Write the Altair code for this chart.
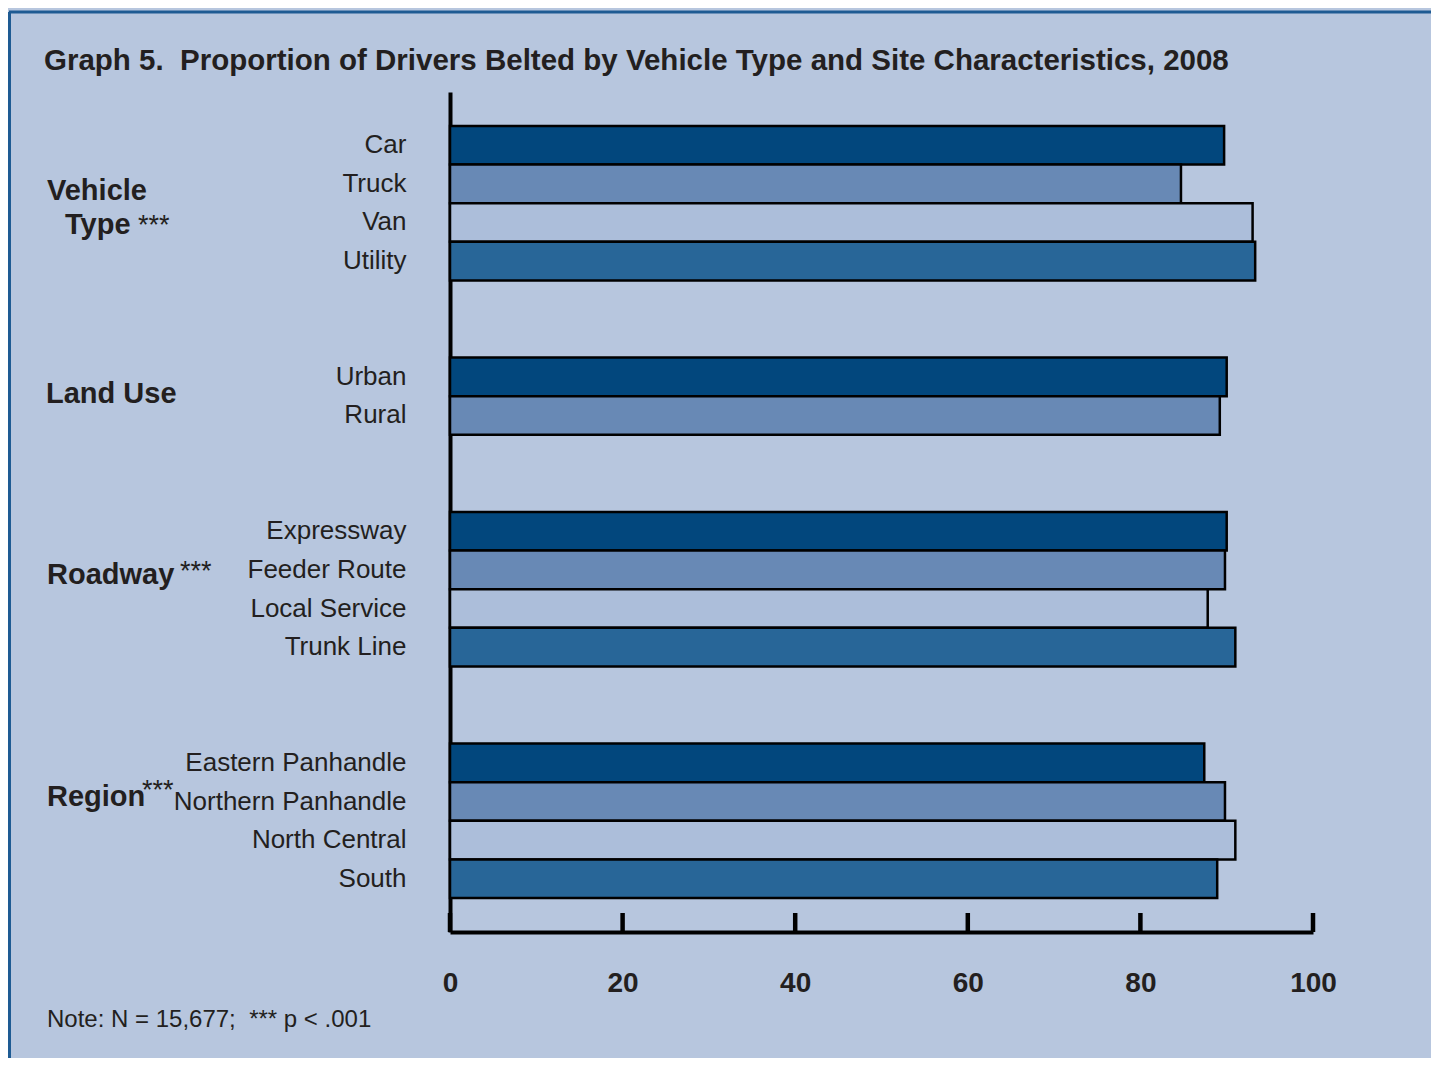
import altair as alt
import pandas as pd

# ---------------- data ----------------
categories = ["Car", "Truck", "Van", "Utility",
              "Urban", "Rural",
              "Expressway", "Feeder Route", "Local Service", "Trunk Line",
              "Eastern Panhandle", "Northern Panhandle", "North Central", "South"]
values = [89.7, 84.7, 93.0, 93.3,
          90.0, 89.2,
          90.0, 89.8, 87.8, 91.0,
          87.4, 89.8, 91.0, 88.9]
shades = ["1", "2", "3", "4",
          "1", "2",
          "1", "2", "3", "4",
          "1", "2", "3", "4"]
spacers = ["~1", "~2", "~3", "~4", "~5", "~6"]
x_ticks = [0, 20, 40, 60, 80, 100]

title_text = "Graph 5.\u00a0 Proportion of Drivers Belted by Vehicle Type and Site Characteristics, 2008"
note_text = "Note: N = 15,677;\u00a0 *** p < .001"

# ---------------- style ----------------
BG = "#B7C6DE"
TXT = "#231F20"
BORDER = "#1E5B93"
FONT = "Liberation Sans"
shade_colors = ["#02477D", "#6889B5", "#ACBEDA", "#286698"]
W, H = 863, 840
PAD_R, PAD_B = 118, 126

y_order = (categories[:4] + spacers[:2] + categories[4:6] + spacers[2:4]
           + categories[6:10] + spacers[4:6] + categories[10:])

df = pd.DataFrame({"category": categories, "value": values, "shade": shades})

yscale = alt.Scale(domain=y_order, paddingInner=0, paddingOuter=0.88)
xscale = alt.Scale(domain=[0, 100], nice=False)

x_axis = alt.Axis(values=x_ticks, title=None, grid=False, tickSize=0,
                  domainWidth=4, domainColor="black", labelFont=FONT,
                  labelFontSize=28, labelFontWeight="bold", labelColor=TXT,
                  labelPadding=37, labelFlush=False)
y_axis = alt.Axis(title=None, ticks=False, domainWidth=4, domainColor="black",
                  labelFont=FONT, labelFontSize=26, labelColor=TXT,
                  labelPadding=44, labelLimit=0,
                  labelExpr="indexof(datum.value, '~') == 0 ? '' : datum.value")

bars = alt.Chart(df).mark_bar(stroke="black", strokeWidth=2.5).encode(
    x=alt.X("value:Q", scale=xscale, axis=x_axis),
    y=alt.Y("category:N", scale=yscale, sort=y_order, axis=y_axis),
    color=alt.Color("shade:N",
                    scale=alt.Scale(domain=["1", "2", "3", "4"], range=shade_colors),
                    legend=None),
)

ticks = alt.Chart(pd.DataFrame({"value": x_ticks})).mark_rule(
    color="black", strokeWidth=4.5).encode(
    x=alt.X("value:Q", scale=xscale, axis=x_axis),
    y=alt.value(H - 19),
    y2=alt.value(H),
)


def group_label(text, cat, xpos, dy, bold=True, size=29):
    return alt.Chart(pd.DataFrame({"category": [cat], "label": [text]})).mark_text(
        align="left", baseline="middle", dy=dy, font=FONT, fontSize=size,
        fontWeight="bold" if bold else "normal", color=TXT,
    ).encode(
        y=alt.Y("category:N", scale=yscale, sort=y_order, axis=y_axis),
        x=alt.value(xpos),
        text="label:N",
    )


labels = [
    group_label("Vehicle", "Truck", -403, 7),
    group_label("Type", "Van", -385, 3),
    group_label("***", "Van", -312, 4, bold=False, size=27),
    group_label("Land Use", "Urban", -404, 17),
    group_label("Roadway", "Feeder Route", -403, 5),
    group_label("***", "Feeder Route", -270, 2, bold=False, size=27),
    group_label("Region", "Northern Panhandle", -403, -5),
    group_label("***", "Northern Panhandle", -308, -11, bold=False, size=27),
]

one = pd.DataFrame({"t": [title_text]})
title = alt.Chart(one).mark_text(
    align="left", baseline="middle", font=FONT, fontSize=29.5,
    fontWeight="bold", color=TXT,
).encode(x=alt.value(-406), y=alt.value(-31), text="t:N")

note = alt.Chart(pd.DataFrame({"t": [note_text]})).mark_text(
    align="left", baseline="middle", font=FONT, fontSize=24, color=TXT,
).encode(x=alt.value(-403), y=alt.value(928), text="t:N")

border_top = alt.Chart(one).mark_rule(color=BORDER, strokeWidth=3).encode(
    x=alt.value(-441), x2=alt.value(W + PAD_R), y=alt.value(-80))
border_left = alt.Chart(one).mark_rule(color=BORDER, strokeWidth=3).encode(
    x=alt.value(-440.5), y=alt.value(-80), y2=alt.value(H + PAD_B))

chart = alt.layer(bars, ticks, *labels, title, note, border_top, border_left).properties(
    width=W, height=H,
    padding={"left": 442, "top": 84, "right": PAD_R, "bottom": PAD_B},
    autosize=alt.AutoSizeParams(type="none"),
    background=BG,
).configure_view(strokeWidth=0)

chart.save("out.html", embed_options={"renderer": "svg", "actions": False})
